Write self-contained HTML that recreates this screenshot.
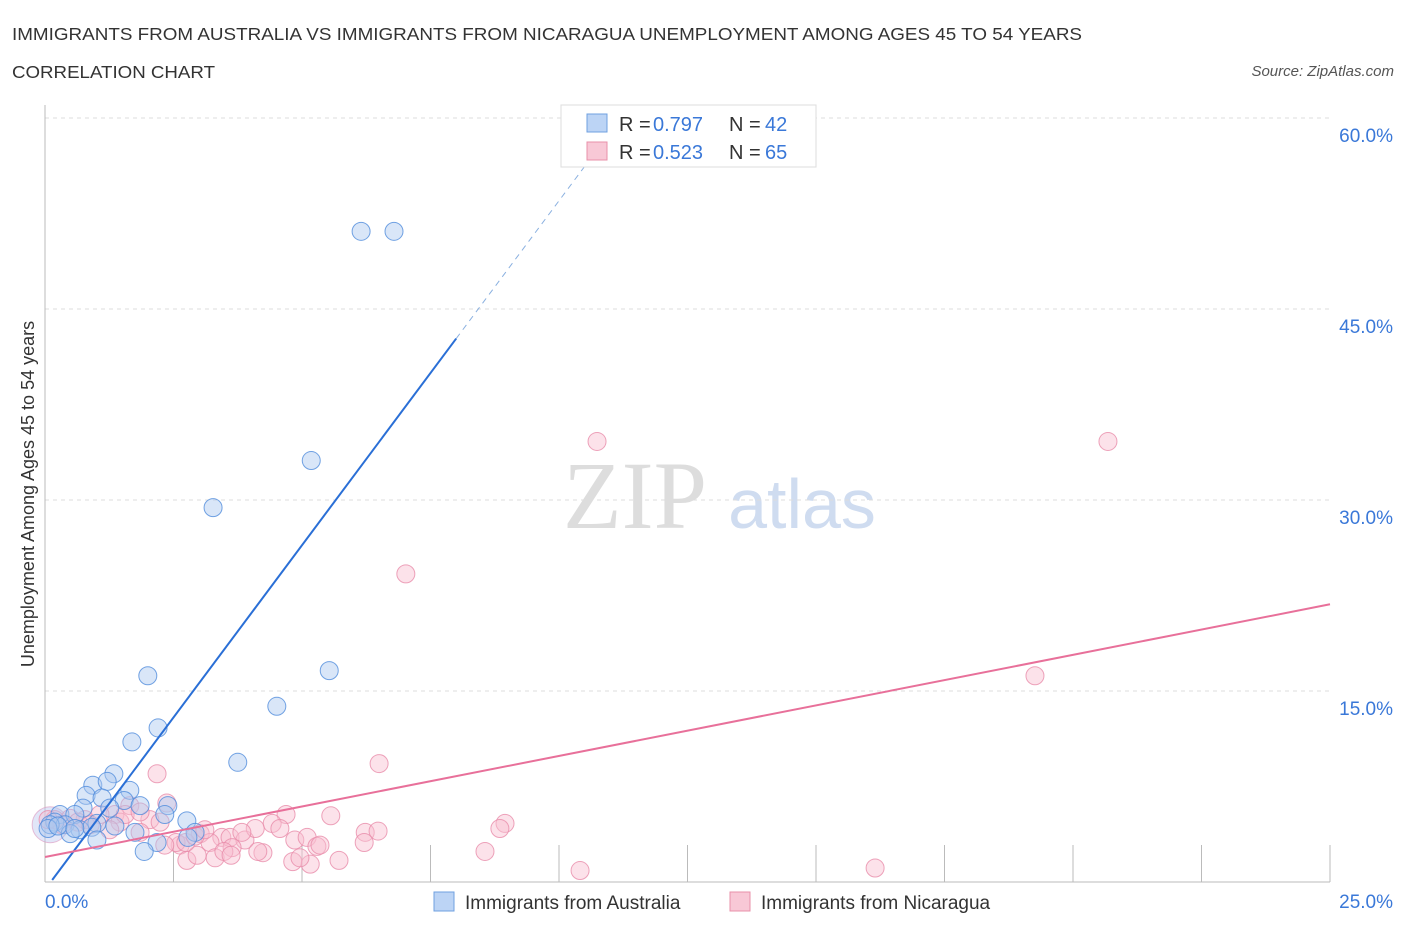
<!DOCTYPE html>
<html><head><meta charset="utf-8"><style>
body{margin:0;background:#fff}
</style></head><body>
<svg id="chart" width="1406" height="930" style="font-family:'Liberation Sans',sans-serif">
<text x="12" y="40" font-size="17.5" fill="#333" textLength="1070" lengthAdjust="spacingAndGlyphs">IMMIGRANTS FROM AUSTRALIA VS IMMIGRANTS FROM NICARAGUA UNEMPLOYMENT AMONG AGES 45 TO 54 YEARS</text>
<text x="12" y="78" font-size="17.5" fill="#333" textLength="203" lengthAdjust="spacingAndGlyphs">CORRELATION CHART</text>
<text x="1394" y="76" font-size="15" fill="#555" font-style="italic" text-anchor="end">Source: ZipAtlas.com</text>
<text x="635" y="528" font-size="96" fill="#ddd" style="font-family:'Liberation Serif',serif" text-anchor="middle">ZIP</text>
<text x="802" y="528" font-size="70" fill="#cfdcf0" text-anchor="middle">atlas</text>
<text transform="translate(34,494) rotate(-90)" font-size="18" fill="#333" text-anchor="middle">Unemployment Among Ages 45 to 54 years</text>
<g id="grid"></g><g id="pts"></g><g id="lines"></g>
<g>
<rect x="561" y="105" width="255" height="62" fill="#fff" stroke="#ddd"/>
<rect x="587" y="114" width="20" height="18" fill="#bcd4f5" stroke="#6fa0e0"/>
<rect x="587" y="142" width="20" height="18" fill="#f8c8d6" stroke="#e890aa"/>
<text x="619" y="131" font-size="20" fill="#333">R =</text><text x="653" y="131" font-size="20" fill="#3a78d8">0.797</text>
<text x="729" y="131" font-size="20" fill="#333">N =</text><text x="765" y="131" font-size="20" fill="#3a78d8">42</text>
<text x="619" y="159" font-size="20" fill="#333">R =</text><text x="653" y="159" font-size="20" fill="#3a78d8">0.523</text>
<text x="729" y="159" font-size="20" fill="#333">N =</text><text x="765" y="159" font-size="20" fill="#3a78d8">65</text>
</g>
<g>
<rect x="434" y="892" width="20" height="19" fill="#bcd4f5" stroke="#6fa0e0"/>
<text x="465" y="909" font-size="19" fill="#333">Immigrants from Australia</text>
<rect x="730" y="892" width="20" height="19" fill="#f8c8d6" stroke="#e890aa"/>
<text x="761" y="909" font-size="19" fill="#333">Immigrants from Nicaragua</text>
</g>
</svg>
<script>
const yTicks=[15,30,45,60];
const xTickLabels=["0.0%","25.0%"];
const blueX=[6.15,6.79,5.18,3.27,2.00,5.53,4.51,2.20,1.69,3.75,1.34,0.93,1.21,1.65,0.80,1.54,1.11,1.85,2.39,0.74,1.26,0.29,0.58,2.76,2.33,0.19,0.39,0.10,1.01,1.36,0.68,0.91,1.75,2.92,0.49,2.78,1.01,2.18,1.93,0.06,0.25,0.58];
const blueY=[51.1,51.1,33.1,29.4,16.2,16.6,13.8,12.1,11.0,9.4,8.5,7.6,7.9,7.2,6.8,6.4,6.6,6.0,6.0,5.8,5.8,5.3,5.3,4.8,5.3,4.7,4.5,4.5,4.6,4.4,4.1,4.3,3.9,3.9,3.8,3.5,3.3,3.1,2.4,4.2,4.4,4.2];
const pinkX=[10.74,20.68,7.02,19.26,2.18,6.50,2.37,4.69,5.56,8.95,8.85,6.23,6.48,3.02,1.65,1.36,2.04,2.24,1.85,3.44,3.60,3.89,4.42,3.64,3.21,4.09,2.63,2.55,4.86,5.10,5.29,6.21,8.56,3.31,2.76,2.96,3.48,4.24,4.82,5.16,5.72,10.41,16.15,0.19,0.49,0.78,1.07,0.33,0.64,1.46,0.88,1.26,0.06,1.56,1.85,2.33,2.74,4.96,3.83,2.92,3.11,4.57,5.35,4.14,3.62];
const pinkY=[34.6,34.6,24.2,16.2,8.5,9.3,6.2,5.3,5.2,4.6,4.2,3.9,4.0,3.8,6.0,5.3,4.9,4.7,3.9,3.5,3.5,3.3,4.6,2.7,3.1,4.2,2.9,3.1,3.3,3.5,2.8,3.1,2.4,1.9,1.7,2.1,2.4,2.3,1.6,1.4,1.7,0.9,1.1,4.9,5.0,4.9,5.3,4.5,4.7,4.7,4.5,4.1,4.9,5.3,5.5,2.9,3.1,1.9,3.9,3.6,4.1,4.2,2.9,2.4,2.1];
const blueFit=[-0.6,5.41];
const pinkFit=[1.96,0.794];
const NS="http://www.w3.org/2000/svg";
const X=v=>45+v*1285/25, Y=v=>882-v*12.733;
function mk(t,a,p){const e=document.createElementNS(NS,t);for(const k in a)e.setAttribute(k,a[k]);p.appendChild(e);return e;}
const grid=document.getElementById('grid');
yTicks.forEach(t=>{
 const l=mk('line',{x1:45,x2:1330,y1:Y(t),y2:Y(t),stroke:'#ddd','stroke-dasharray':'4,4'},grid);
 
 
 const tx=mk('text',{x:1393,y:Y(t)+24,'font-size':19,fill:'#3a78d8','text-anchor':'end'},grid);
 tx.textContent=t.toFixed(1)+'%';
 
 
});
mk('line',{x1:45,x2:45,y1:105,y2:882,stroke:'#bbb'},grid);
mk('line',{x1:45,x2:1330,y1:882,y2:882,stroke:'#bbb'},grid);
for(let i=1;i<=10;i++){mk('line',{x1:X(i*2.5),x2:X(i*2.5),y1:845,y2:882,stroke:'#bbb'},grid);}
const xl0=mk('text',{x:45,y:908,'font-size':19,fill:'#3a78d8'},grid);xl0.textContent=xTickLabels[0];


const xl1=mk('text',{x:1393,y:908,'font-size':19,fill:'#3a78d8','text-anchor':'end'},grid);xl1.textContent=xTickLabels[1];


const pts=document.getElementById('pts');
mk('circle',{cx:X(0.1),cy:Y(4.5),r:18,fill:'rgba(188,200,240,0.45)',stroke:'rgba(220,150,190,0.6)'},pts);
pinkX.forEach((x,i)=>{const c=mk('circle',{cx:X(x),cy:Y(pinkY[i]),r:9,fill:'rgba(248,190,208,0.45)',stroke:'rgba(232,140,170,0.8)'},pts);
 
 });
blueX.forEach((x,i)=>{const c=mk('circle',{cx:X(x),cy:Y(blueY[i]),r:9,fill:'rgba(170,200,240,0.45)',stroke:'rgba(80,140,220,0.8)'},pts);
 
 });
const lines=document.getElementById('lines');
const bx0=0.14,bx1=8.0,bx2=10.6;
const bl=mk('line',{x1:X(bx0),y1:Y(blueFit[0]+blueFit[1]*bx0),x2:X(bx1),y2:Y(blueFit[0]+blueFit[1]*bx1),stroke:'#2a6fd6','stroke-width':2},lines);


mk('line',{x1:X(bx1),y1:Y(blueFit[0]+blueFit[1]*bx1),x2:X(bx2),y2:Y(blueFit[0]+blueFit[1]*bx2),stroke:'#8ab0e0','stroke-width':1,'stroke-dasharray':'6,5'},lines);
const pl=mk('line',{x1:X(0),y1:Y(pinkFit[0]),x2:X(25),y2:Y(pinkFit[0]+pinkFit[1]*25),stroke:'#e8709a','stroke-width':2},lines);


</script>
</body></html>
